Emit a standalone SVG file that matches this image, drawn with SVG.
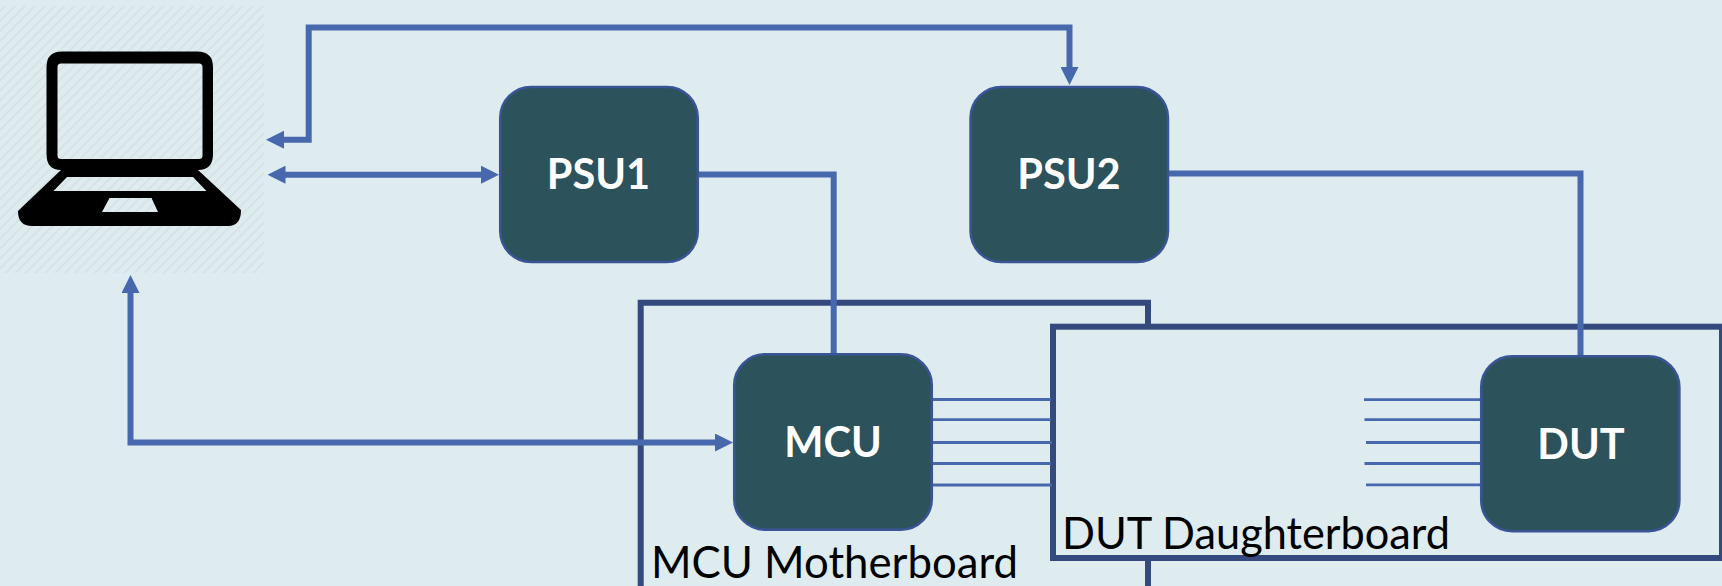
<svg xmlns="http://www.w3.org/2000/svg" width="1722" height="586" viewBox="0 0 1722 586">
<style>
.node{fill:#2C525B;stroke:#3A5597;stroke-width:2.5}
.nt{font-family:"Lato","Liberation Sans",sans-serif;font-weight:700;font-size:41.5px;fill:#fff;text-anchor:middle}
.lbl{font-family:"Lato","Liberation Sans",sans-serif;font-size:43.5px;fill:#000}
.board{fill:none;stroke:#344A7E;stroke-width:6}
.conn{fill:none;stroke:#4868AE;stroke-width:6}
.wire{fill:none;stroke:#4868AE;stroke-width:2.8}
</style>
<defs>
<pattern id="hatch" width="7" height="7" patternUnits="userSpaceOnUse" patternTransform="rotate(45)">
<rect width="7" height="7" fill="#DEEBEF"/><rect width="1.8" height="7" fill="#D6E2E5"/>
</pattern>
<marker id="ae" markerUnits="userSpaceOnUse" markerWidth="18" markerHeight="18" refX="2" refY="9" orient="auto"><path d="M0 0L18 9L0 18Z" fill="#4868AE"/></marker>
<marker id="as" markerUnits="userSpaceOnUse" markerWidth="18" markerHeight="18" refX="16" refY="9" orient="auto"><path d="M18 0L0 9L18 18Z" fill="#4868AE"/></marker>
</defs>
<rect width="1722" height="586" fill="#DEEBEF"/>
<g id="laptop">
<rect x="0" y="6" width="264" height="267" fill="url(#hatch)"/>
<path fill-rule="evenodd" fill="#000" d="M62 51.500H197Q213 51.500 213 67V154Q213 170 198 170L241 210Q241 226 228 226H32Q18 226 18 211L61 170Q46.500 170 46.500 154V67Q46.500 51.500 62 51.500ZM61 63.500Q57.500 63.500 57.500 67V155.500Q57.500 159 61 159H199Q202.500 159 202.500 155.500V67Q202.500 63.500 199 63.500ZM67 177L53.500 191H206.500L193 177ZM109.500 198L102 212H158L151.500 198Z"/>
</g>
<g id="mcu-board"><path class="board" d="M640.700 586V302.700H1148V586"/></g>
<g id="dut-board">
<rect x="1053" y="326.700" width="669" height="231.300" fill="#DEEBEF" stroke="#344A7E" stroke-width="6"/>
</g>
<g id="connectors">
<path class="conn" marker-start="url(#as)" marker-end="url(#ae)" d="M282 139.700H308.700V27.500H1069.500V69"/>
<path class="conn" marker-start="url(#as)" marker-end="url(#ae)" d="M283.500 174.700H483"/>
<path class="conn" marker-start="url(#as)" marker-end="url(#ae)" d="M717 442.500H130.500V291"/>
<path class="conn" d="M699 174.500H833.700V353"/>
<path class="conn" d="M1169 173.500H1580.500V355"/>
<g class="wire">
<path d="M930 399.500H1051"/><path d="M931 419.700H1051"/><path d="M932 442.500H1052"/><path d="M932 463.500H1051"/><path d="M933 485H1052"/>
</g>
<g class="wire">
<path d="M1364 399.700H1483.500"/><path d="M1364.500 419.700H1484"/><path d="M1366 442.500H1485.500"/><path d="M1364.500 463.500H1484"/><path d="M1366 484.800H1485.500"/>
</g>
</g>
<g id="psu1"><rect class="node" x="500.200" y="86.900" width="197.600" height="175.200" rx="31"/><text class="nt" x="598.500" y="189">PSU1</text></g>
<g id="psu2"><rect class="node" x="970.500" y="86.900" width="197.500" height="175.200" rx="31"/><text class="nt" x="1069" y="188.500">PSU2</text></g>
<g id="mcu"><rect class="node" x="734.200" y="354.200" width="197.600" height="175.600" rx="31"/><text class="nt" x="833" y="457">MCU</text></g>
<g id="dut"><rect class="node" x="1481.200" y="356.200" width="198.200" height="175.100" rx="31"/><text class="nt" x="1581" y="459">DUT</text></g>
<text class="lbl" x="651" y="578" textLength="367" lengthAdjust="spacingAndGlyphs">MCU Motherboard</text>
<text class="lbl" x="1062" y="549" textLength="388" lengthAdjust="spacingAndGlyphs">DUT Daughterboard</text>
</svg>
